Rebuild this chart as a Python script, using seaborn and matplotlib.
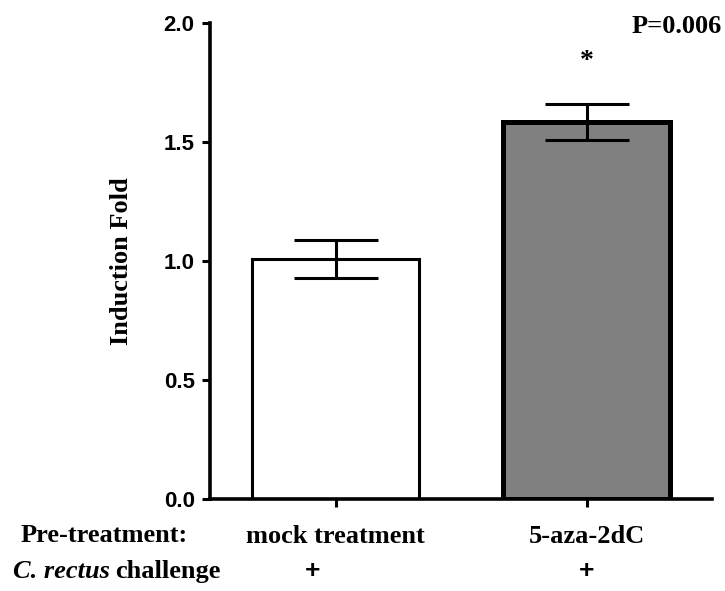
import matplotlib
matplotlib.use("Agg")
import matplotlib.pyplot as plt
import matplotlib.transforms as mtransforms
import seaborn as sns
import pandas as pd
import numpy as np

# ---- data ----
categories = ["mock treatment", "5-aza-2dC"]
means = [1.01, 1.585]
errors = [0.08, 0.075]
challenge = ["+", "+"]
bar_colors = ["#ffffff", "#808080"]
yticks = [0.0, 0.5, 1.0, 1.5, 2.0]

sns.set_style("ticks")
plt.rcParams['font.family'] = ['Liberation Serif', 'DejaVu Serif']
plt.rcParams['text.color'] = 'black'
plt.rcParams['axes.edgecolor'] = 'black'
plt.rcParams['xtick.color'] = 'black'
plt.rcParams['ytick.color'] = 'black'
plt.rcParams['axes.labelcolor'] = 'black'

FS = 19
df = pd.DataFrame({"cat": categories, "val": means})

fig = plt.figure(figsize=(7.25, 5.91), dpi=100)
ax = fig.add_axes([210 / 725, 1 - 499 / 591, 502 / 725, 476 / 591])

sns.barplot(data=df, x="cat", y="val", hue="cat", palette=bar_colors,
            order=categories, hue_order=categories, legend=False,
            width=0.665, edgecolor="black", errorbar=None, ax=ax, saturation=1)
for p, lw in zip(ax.patches, [2.2, 3.6]):
    p.set_linewidth(lw)
    p.set_edgecolor("black")

ax.errorbar(np.arange(len(categories)), means, yerr=errors, fmt="none",
            ecolor="black", elinewidth=2.2, capsize=30, capthick=2.2, zorder=5)

ax.set_xlim(-0.5, 1.5)
ax.set_ylim(0, 2.0)
ax.set_yticks(yticks)
ax.set_yticklabels([f"{t:.1f}" for t in yticks], fontfamily="Liberation Sans",
                   fontweight="bold", fontsize=16)
ax.set_xticks(np.arange(len(categories)))
ax.set_xticklabels(categories, fontweight="bold", fontsize=FS, va="baseline")
ax.tick_params(axis="both", width=2.2, length=6, direction="out")
ax.tick_params(axis="y", pad=5)
ax.tick_params(axis="x", pad=26)
for s in ["top", "right"]:
    ax.spines[s].set_visible(False)
for s in ["left", "bottom"]:
    ax.spines[s].set_linewidth(2.6)
ax.set_xlabel("")
ax.set_ylabel("Induction Fold", fontweight="bold", fontsize=FS, labelpad=22)

# row labels below
y1 = 1 - 542 / 591
y2 = 1 - 578 / 591
fig.text(21 / 725, y1, "Pre-treatment:", fontweight="bold", fontsize=FS,
         va="baseline", ha="left")
t_it = fig.text(13 / 725, y2, "C. rectus", fontweight="bold", fontstyle="italic",
                fontsize=FS, va="baseline", ha="left")
fig.canvas.draw()
r = fig.canvas.get_renderer()
bb = t_it.get_window_extent(renderer=r)
fig.text((bb.x1 + 5) / 725, y2, "challenge", fontweight="bold", fontsize=FS,
         va="baseline", ha="left")

trans = mtransforms.blended_transform_factory(ax.transData, fig.transFigure)
plus_offsets = [-0.09, 0.0]
for i, c in enumerate(challenge):
    ax.text(i + plus_offsets[i], y2, c, transform=trans, fontfamily="Liberation Sans",
            fontweight="bold", fontsize=19, ha="center", va="baseline")

ax.text(1, 1 - 62 / 591, "*", transform=trans, fontweight="bold", fontsize=20,
        ha="center", va="center")
fig.text(722 / 725, 1 - 33 / 591, "P=0.006", fontweight="bold", fontsize=FS,
         ha="right", va="baseline")

fig.savefig("out.png", dpi=100)
